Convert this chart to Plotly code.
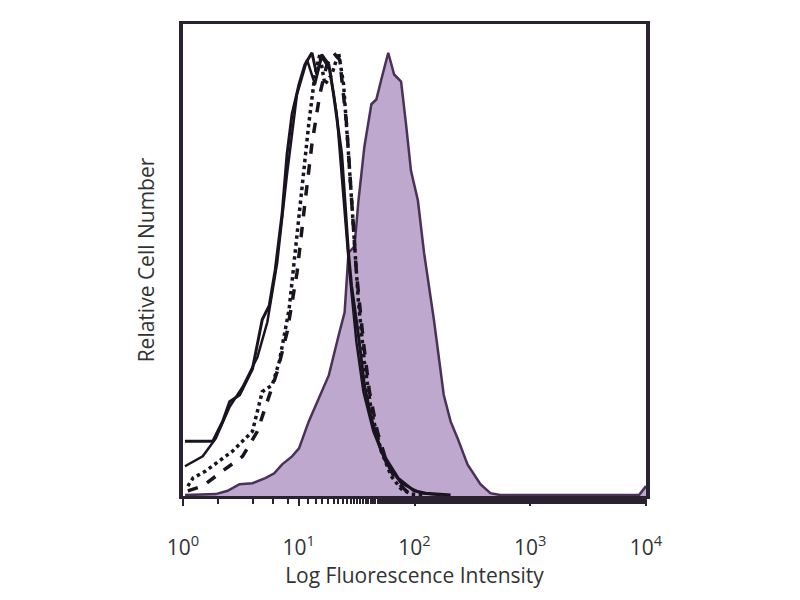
import plotly.graph_objects as go

# Stained sample (filled purple histogram)
stained_x = [1.04, 1.48, 1.92, 2.43, 3.08, 3.98, 5.14, 6.14, 7.19, 8.75, 10.05, 12.2, 14.9, 18.2, 22.1,
             24.9, 26.9, 30.3, 32.8, 36.9, 42.4, 46.8, 51.6, 59.3, 66.7, 76.6, 84.5, 93.3, 107, 121,
             147, 179, 205, 236, 287, 371, 452, 551, 8710, 9615, 10000]
stained_y = [0.2, 0.4, 0.4, 1.1, 2.5, 2.7, 3.8, 4.8, 6.7, 8.4, 10.1, 15.8, 20.6, 25.6, 34.0,
             38.9, 51.5, 52.9, 62.6, 74.0, 83.0, 84.0, 88.2, 93.9, 89.3, 87.8, 78.8, 68.9, 62.6, 51.5,
             37.4, 21.4, 15.8, 12.2, 6.7, 2.5, 0.6, 0.2, 0.2, 1.5, 2.1]

# Control histograms (black, unfilled)
ctrl_a_x = [1.04, 1.34, 1.81, 2.20, 2.53, 3.08, 3.98, 4.84, 5.56, 6.26, 7.19, 7.93, 8.75, 10.05, 11.3,
            13.0, 14.3, 15.8, 18.2, 20.0, 23.5, 26.9, 28.6, 32.8, 36.9, 42.4, 51.6, 72.2, 99, 125, 205]
ctrl_a_y = [11.6, 11.6, 11.6, 15.8, 20.0, 21.4, 26.9, 37.4, 40.3, 47.9, 59.9, 72.5, 80.9, 87.2, 91.4,
            93.9, 89.3, 93.5, 91.4, 85.1, 72.5, 51.5, 44.5, 34.0, 23.5, 16.4, 9.5, 3.8, 1.1, 0.6, 0.2]

ctrl_b_x = [1.04, 1.48, 1.92, 2.53, 3.27, 4.39, 5.35, 6.51, 7.93, 9.66, 11.8, 13.8, 15.8, 18.5, 21.3,
            24.4, 27.5, 31.5, 36.2, 44.1, 57.0, 76.6, 114, 169]
ctrl_b_y = [6.3, 8.4, 12.2, 18.9, 23.1, 29.4, 36.8, 49.4, 68.3, 85.1, 92.4, 87.2, 93.1, 90.3, 80.9,
            62.0, 47.3, 32.6, 22.1, 13.7, 6.9, 2.7, 0.6, 0.2]

ctrl_c_x = [1.10, 1.22, 1.57, 2.68, 3.98, 4.84, 5.90, 6.78, 8.25, 9.29, 10.7, 12.2, 13.8, 15.2, 16.8,
            19.3, 22.1, 24.4, 26.9, 29.7, 32.8, 36.9, 42.4, 51.6, 62.9, 76.6, 93.3, 125]
ctrl_c_y = [2.1, 3.8, 5.3, 9.5, 13.7, 22.1, 23.5, 28.4, 39.5, 51.5, 66.2, 78.8, 89.3, 93.5, 87.2,
            89.3, 93.9, 87.2, 72.5, 55.7, 41.0, 28.4, 17.9, 9.5, 4.2, 1.5, 0.4, 0.2]

ctrl_d_x = [1.10, 1.48, 2.20, 3.27, 4.39, 5.35, 6.51, 7.93, 9.66, 11.3, 13.0, 15.2, 17.5, 20.0, 22.6,
            25.9, 28.6, 31.5, 36.2, 40.8, 47.7, 57.0, 69.5, 84.5, 103]
ctrl_d_y = [1.1, 2.1, 5.3, 8.4, 13.7, 20.0, 26.3, 34.7, 47.3, 62.0, 74.6, 85.1, 91.4, 93.9, 92.4,
            78.8, 62.0, 47.3, 32.6, 22.1, 13.7, 7.4, 3.2, 1.1, 0.2]

tick_vals = [1, 10, 100, 1000, 10000]
tick_text = ["10<sup>0</sup>", "10<sup>1</sup>", "10<sup>2</sup>", "10<sup>3</sup>", "10<sup>4</sup>"]

fig = go.Figure()
fig.add_trace(go.Scatter(x=stained_x, y=stained_y, mode="lines", fill="tozeroy",
                         fillcolor="#bfa8cd", line=dict(color="#4a3256", width=2.5),
                         showlegend=False))
fig.add_trace(go.Scatter(x=ctrl_a_x, y=ctrl_a_y, mode="lines",
                         line=dict(color="#1a1420", width=3), showlegend=False))
fig.add_trace(go.Scatter(x=ctrl_b_x, y=ctrl_b_y, mode="lines",
                         line=dict(color="#1a1420", width=2.5), showlegend=False))
fig.add_trace(go.Scatter(x=ctrl_c_x, y=ctrl_c_y, mode="lines",
                         line=dict(color="#1a1420", width=3.5, dash="dot"), showlegend=False))
fig.add_trace(go.Scatter(x=ctrl_d_x, y=ctrl_d_y, mode="lines",
                         line=dict(color="#1a1420", width=3.5, dash="dash"), showlegend=False))

fig.update_layout(
    width=800, height=600,
    margin=dict(l=175, r=162, t=16, b=112),
    paper_bgcolor="white", plot_bgcolor="white",
    font=dict(family="Open Sans", color="#222222"),
    xaxis=dict(type="log", range=[0, 4], tickvals=tick_vals, ticktext=tick_text,
               showgrid=False, zeroline=False, showline=True, linecolor="#2a2230",
               linewidth=3, mirror=True, ticks="outside", ticklen=7, tickwidth=2,
               tickcolor="#2a2230", tickfont=dict(size=21, color="#333333"),
               ticklabelstandoff=24,
               minor=dict(ticks="outside", ticklen=5, tickwidth=1.5, tickcolor="#2a2230",
                          showgrid=False),
               title=dict(text="Log Fluorescence Intensity", font=dict(size=21, color="#333333"),
                          standoff=8)),
    yaxis=dict(range=[0, 100], showticklabels=False, ticks="", showgrid=False, zeroline=False,
               showline=True, linecolor="#2a2230", linewidth=3.5, mirror=True,
               title=dict(text="Relative Cell Number", font=dict(size=21, color="#333333"),
                          standoff=20)),
)

fig.write_html("out.html")
